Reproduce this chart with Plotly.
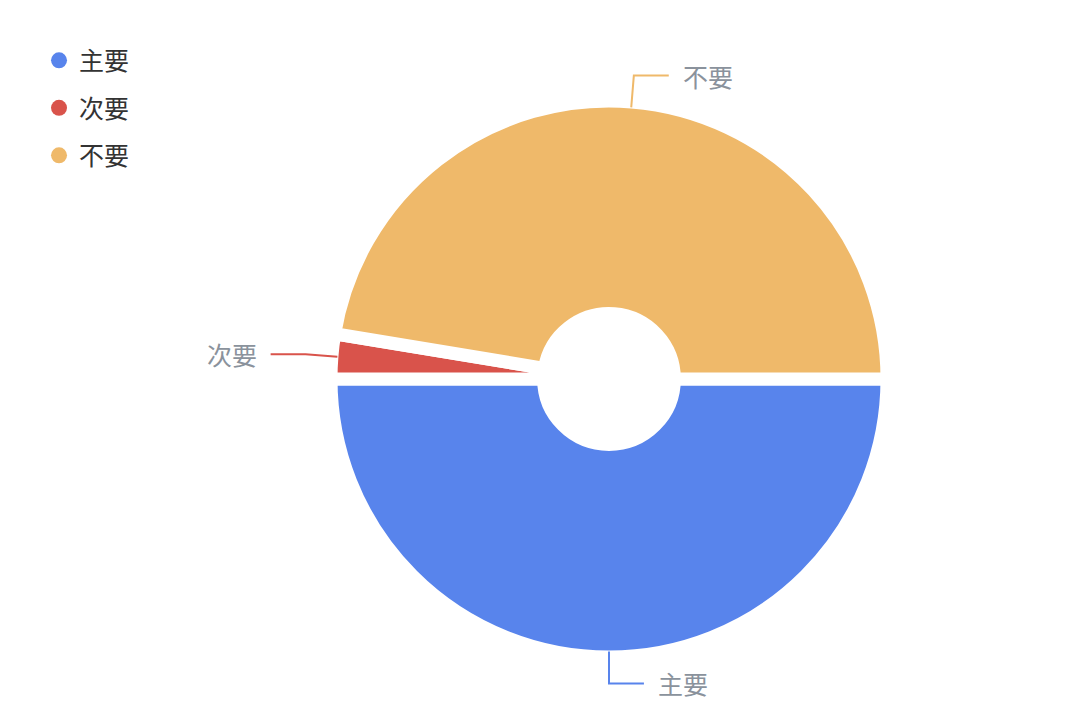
import math
import plotly.graph_objs as go

# data
labels = ["主要", "次要", "不要"]
values = [50, 2.6, 47.4]
colors = ["#5884ec", "#d9534b", "#efb96a"]

W, H = 1080, 720
PAGE_OFF = 8               # the html body margin shifts the figure by 8px
CX, CY = 609 - PAGE_OFF, 379 - PAGE_OFF   # pie centre in figure pixels
R_OUT = 272                # visible outer radius
R_IN = 72                  # visible inner radius
GAP = 13                   # white gap between slices
R = R_OUT + GAP / 2        # radius plotly draws before the border eats into it

ml, mt = CX - R, CY - R
mr, mb = W - CX - R, H - CY - R
pw, ph = W - ml - mr, H - mt - mb


def px_to_paper(x, y):
    return (x - ml) / pw, (H - mb - y) / ph


fig = go.Figure()

fig.add_trace(
    go.Pie(
        labels=labels,
        values=values,
        sort=False,
        direction="clockwise",
        rotation=90,
        hole=(R_IN - GAP / 2) / R,
        marker=dict(colors=colors, line=dict(color="white", width=GAP)),
        textinfo="none",
        hoverinfo="label+value+percent",
        showlegend=False,
    )
)

# legend with round markers
for lab, col in zip(labels, colors):
    fig.add_trace(
        go.Scatter(
            x=[None], y=[None], mode="markers", name=lab, legendgroup=lab,
            marker=dict(size=16, color=col, symbol="circle"),
        )
    )

# outside labels with two-part leader lines
shapes, annotations = [], []
total = sum(values)
cum = 0
for lab, v, col in zip(labels, values, colors):
    mid = math.radians(360 * (cum + v / 2) / total)
    cum += v
    c, s = math.cos(mid), math.sin(mid)
    side = 1 if c >= -1e-9 else -1
    x1, y1 = CX + (R_OUT + 1) * c, CY + (R_OUT + 1) * s
    x2, y2 = CX + (R_OUT + 33) * c, CY + (R_OUT + 33) * s
    x3, y3 = x2 + side * 35, y2
    p1, p2, p3 = px_to_paper(x1, y1), px_to_paper(x2, y2), px_to_paper(x3, y3)
    shapes.append(
        dict(
            type="path", xref="paper", yref="paper",
            path=f"M {p1[0]} {p1[1]} L {p2[0]} {p2[1]} L {p3[0]} {p3[1]}",
            line=dict(color=col, width=2),
        )
    )
    tx, ty = px_to_paper(x3 + side * 12, y3)
    annotations.append(
        dict(
            x=tx, y=ty, xref="paper", yref="paper", text=lab, showarrow=False,
            xanchor="left" if side > 0 else "right", yanchor="middle",
            font=dict(size=25, color="#8a929c"),
        )
    )

lx, ly = px_to_paper(38 - PAGE_OFF, 37 - PAGE_OFF)
fig.update_layout(
    width=W,
    height=H,
    margin=dict(l=ml, r=mr, t=mt, b=mb, autoexpand=False),
    paper_bgcolor="white",
    plot_bgcolor="white",
    font=dict(family="Noto Sans CJK SC, sans-serif", color="#333333"),
    xaxis=dict(visible=False),
    yaxis=dict(visible=False),
    showlegend=True,
    legend=dict(
        x=lx, y=ly, xanchor="left", yanchor="top",
        font=dict(size=25, color="#333333"),
        itemwidth=30, tracegroupgap=12, bgcolor="rgba(0,0,0,0)",
    ),
    shapes=shapes,
    annotations=annotations,
)

fig.write_html("out.html")
